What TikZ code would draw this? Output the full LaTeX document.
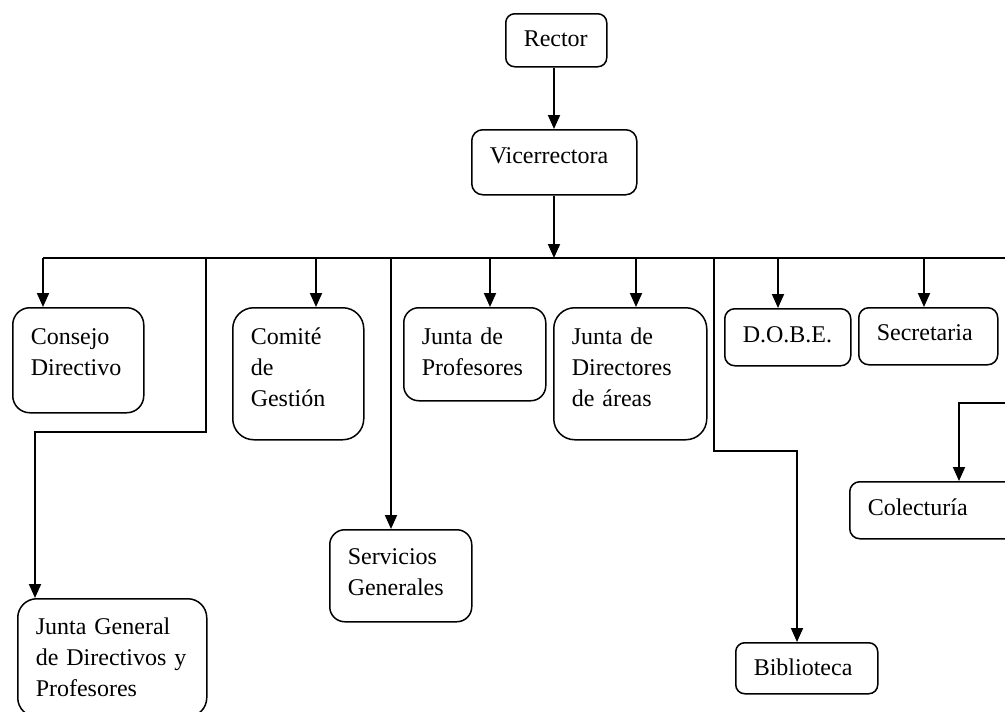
\documentclass[tikz,border=0pt]{standalone}
\usepackage{fontspec}
\setmainfont{Liberation Serif}
\usetikzlibrary{arrows.meta}

\tikzset{
  unit/.style={draw, line width=1.5pt, anchor=north west, align=left,
    inner xsep=18pt, inner ysep=0pt, text height=37pt},
  link/.style={line width=1.9pt, -{Triangle[length=14pt,width=12pt]}},
  bus/.style={line width=1.9pt}
}

\begin{document}
\begin{tikzpicture}[x=1pt,y=-1pt,font=\fontsize{24}{31}\selectfont]
  \useasboundingbox (0,0) rectangle (1005,712);
  \clip (0,0) rectangle (1005,712);

  % top of the chart
  \node[unit, text width=65pt, text height=33pt, text depth=20pt, rounded corners=9pt] (rector) at (505,13) {Rector};
  \node[unit, text width=129pt, text height=34pt, text depth=31pt, rounded corners=11pt] (vice) at (471,129) {Vicerrectora};

  % first row
  \node[unit, text width=95pt, text depth=68pt, rounded corners=17pt] (consejo) at (12,307) {Consejo\\Directivo};
  \node[unit, text width=95pt, text depth=95pt, rounded corners=21pt] (comite) at (232,307) {Comité\\de\\Gestión};
  \node[unit, text width=106pt, text depth=56pt, rounded corners=15pt] (profes) at (403,307) {Junta de\\Profesores};
  \node[unit, text width=117pt, text depth=95pt, rounded corners=21pt] (direct) at (553,307) {Junta de\\Directores\\de áreas};
  \node[unit, text width=90pt, text height=34pt, text depth=23pt, rounded corners=10pt] (dobe) at (724,308) {D.O.B.E.};
  \node[unit, text width=103pt, text height=33pt, text depth=24pt, rounded corners=10pt] (secre) at (858,307) {Secretaria};

  % lower boxes
  \node[unit, text width=164pt, text height=34pt, text depth=23pt, rounded corners=10pt] (colec) at (849,481) {Colectur\'ia};
  \node[unit, text width=106pt, text height=35pt, text depth=57pt, rounded corners=15pt] (servi) at (329,529) {Servicios\\Generales};
  \node[unit, text width=153pt, text height=36pt, text depth=82pt, rounded corners=19pt] (jgeneral) at (17,598) {Junta General\\de Directivos y\\Profesores};
  \node[unit, text width=106pt, text height=33pt, text depth=18pt, rounded corners=9pt] (biblio) at (735,642) {Biblioteca};

  % connectors
  \coordinate (hub) at (554,258);
  \draw[link] (hub |- rector.south) -- (hub |- vice.north);
  \draw[link] (hub |- vice.south) -- (hub);
  \draw[bus] (43,258) -- (1010,258);

  \foreach \x/\n in {43/consejo, 316/comite, 490/profes, 636/direct, 778/dobe, 924/secre} {
    \coordinate (tap\n) at (\x,258);
    \draw[link] (tap\n) -- (tap\n |- \n.north);
  }

  \coordinate (tapS) at (391,258);
  \draw[link] (tapS) -- (tapS |- servi.north);

  \coordinate (tapJ) at (206,258);
  \coordinate (bendJ) at (35,432);
  \draw[link] (tapJ) |- (bendJ) -- (bendJ |- jgeneral.north);

  \coordinate (tapB) at (714,258);
  \coordinate (bendB) at (797,451);
  \draw[link] (tapB) |- (bendB) -- (bendB |- biblio.north);

  \coordinate (tapC) at (1010,403);
  \coordinate (bendC) at (959,403);
  \draw[link] (tapC) -- (bendC) -- (bendC |- colec.north);
\end{tikzpicture}
\end{document}
